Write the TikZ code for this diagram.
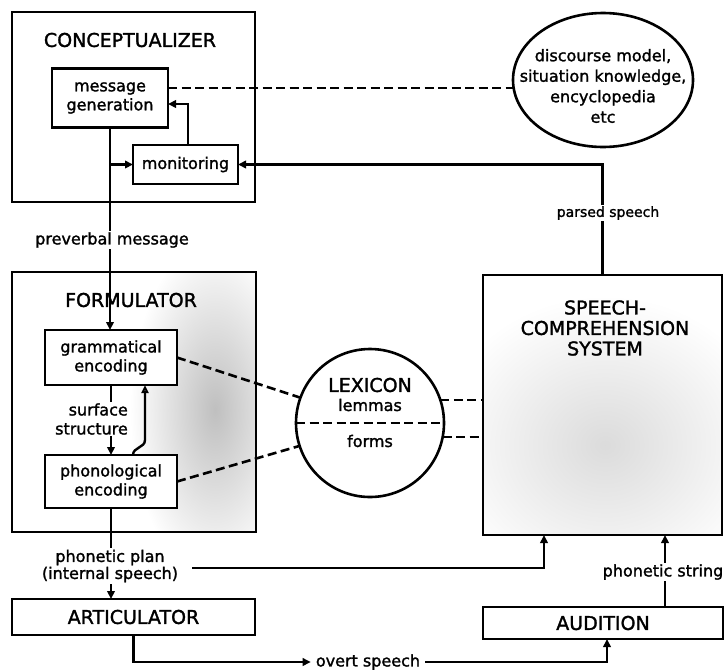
\documentclass[tikz,border=0pt]{standalone}
\usepackage{fontspec}
\setmainfont{DejaVu Sans}[UprightFeatures={FakeBold=1.5}]
\usetikzlibrary{arrows.meta,shapes.geometric,calc}
\newcommand\mycapfont{\fontsize{19}{20.5}\selectfont}
\newcommand\mylowfont{\fontsize{16}{19}\selectfont}
\begin{document}
\begin{tikzpicture}[x=1pt,y=-1pt,
  bigbox/.style={draw, line width=2.8pt, inner sep=0pt, outer sep=0pt},
  smallbox/.style={draw, line width=2.8pt, fill=white, align=center, font=\mylowfont, inner sep=0pt, outer sep=0pt},
  capstext/.style={font=\mycapfont, align=center, inner sep=1pt},
  lbl/.style={font=\mylowfont, align=center, fill=white, inner sep=1.5pt},
  conn/.style={line width=2.4pt},
  arr/.style={conn, -{Triangle[length=8pt,width=7.5pt]}},
  dconn/.style={line width=2.6pt, dash pattern=on 9pt off 4.5pt},
  bigoval/.style={draw, line width=2.6pt, inner sep=0pt, outer sep=0pt}
]
\useasboundingbox (0,0) rectangle (725,670);

% stippled shading
\begin{scope}
  \clip (12,272) rectangle (256,532);
  \shade[inner color=gray!50, outer color=white] (215,410) ellipse (85 and 170);
\end{scope}
\begin{scope}
  \clip (483,275) rectangle (722,535);
  \shade[inner color=gray!28, outer color=white] (605,445) ellipse (170 and 150);
\end{scope}

% conceptualizer
\node[bigbox, minimum width=243pt, minimum height=190pt] (concept) at (133.5,107) {};
\node[capstext] (conlabel) at (130,40) {CONCEPTUALIZER};
\node[smallbox, minimum width=116pt, minimum height=59pt] (msggen) at (110,98) {message\\generation};
\node[smallbox, minimum width=105pt, minimum height=39pt] (monitor) at (185.5,164.5) {monitoring};

% world knowledge
\node[bigoval, ellipse, minimum width=180pt, minimum height=134pt] (world) at (603,80) {};
\node[font=\fontsize{16}{20.5}\selectfont, align=center, inner sep=0pt] (worldtext) at (603,86) {discourse model,\\situation knowledge,\\encyclopedia\\etc};

% formulator
\node[bigbox, minimum width=244pt, minimum height=260pt] (form) at (134,402) {};
\node[capstext] (formlabel) at (131,300) {FORMULATOR};
\node[smallbox, minimum width=132pt, minimum height=55pt] (gram) at (111,357.5) {grammatical\\encoding};
\node[smallbox, minimum width=132pt, minimum height=53pt] (phon) at (111,481.5) {phonological\\encoding};

% lexicon
\node[bigoval, circle, minimum size=148pt] (lex) at (370,423) {};
\node[capstext] (lexlabel) at (370,385) {LEXICON};
\node[font=\mylowfont, inner sep=1pt] (lemmas) at (370,405) {lemmas};
\node[font=\mylowfont, inner sep=1pt] (forms) at (370,441) {forms};

% speech comprehension
\node[bigbox, minimum width=239pt, minimum height=260pt] (speech) at (602.5,405) {};
\node[capstext] (sctitle) at (605,328) {SPEECH-\\COMPREHENSION\\SYSTEM};

% articulator, audition
\node[smallbox, font=\mycapfont, minimum width=243pt, minimum height=36pt] (artic) at (133.5,617) {ARTICULATOR};
\node[smallbox, font=\mycapfont, minimum width=240pt, minimum height=32pt] (audit) at (603,623) {AUDITION};

% connectors in conceptualizer
\draw[dconn] ([yshift=10pt]msggen.east) -- ([yshift=10pt]msggen.east -| world.west);
\draw[arr] (msggen.south) -- (msggen.south |- gram.north);
\draw[arr] (msggen.south |- monitor.west) -- (monitor.west);
\draw[arr] ([xshift=2.5pt]monitor.north) |- ([yshift=-6pt]msggen.east);
\draw[arr] (speech.north) |- (monitor.east);

% formulator internals
\draw[arr] (gram.south) -- (gram.south |- phon.north);
\coordinate (fbbend) at (145,440);
\draw[conn, -{Triangle[open, length=8pt, width=7pt]}] ([xshift=22pt]phon.north) .. controls +(0,-8) and +(0,8) .. (fbbend) -- (fbbend |- gram.south);

% lexicon links
\draw[dconn] (gram.east) -- (lex.160);
\draw[dconn] (phon.east) -- (lex.198);
\draw[dconn] (lex.west) -- (lex.east);
\draw[dconn] (lex.18) -- (lex.18 -| speech.west);
\draw[dconn] (lex.-11) -- (lex.-11 -| speech.west);

% bottom
\node[font=\mylowfont, inner sep=5pt] (overt) at (368,662) {overt speech};
\draw[arr] (phon.south) -- (phon.south |- artic.north);
\coordinate (ispeech) at (192,568);
\draw[arr] (ispeech) -| ([xshift=-58.5pt]speech.south);
\draw[arr] ([xshift=62pt]audit.north) -- ([xshift=62pt]audit.north |- speech.south);
\draw[arr] (artic.south) |- (overt.west);
\draw[arr] (overt.east) -| ([xshift=4pt]audit.south);

% labels on lines
\node[lbl] (preverbal) at (112,240) {preverbal message};
\node[lbl, font=\fontsize{14}{16}\selectfont] (parsed) at (608,213) {parsed speech};
\node[lbl, align=right, anchor=east, inner sep=1pt] (surface) at (129,419) {surface\\structure};
\node[lbl, font=\fontsize{16}{17}\selectfont] (plan) at (110,566) {phonetic plan\\(internal speech)};
\node[lbl, anchor=west] (phstring) at (601,572) {phonetic string};
\end{tikzpicture}
\end{document}
